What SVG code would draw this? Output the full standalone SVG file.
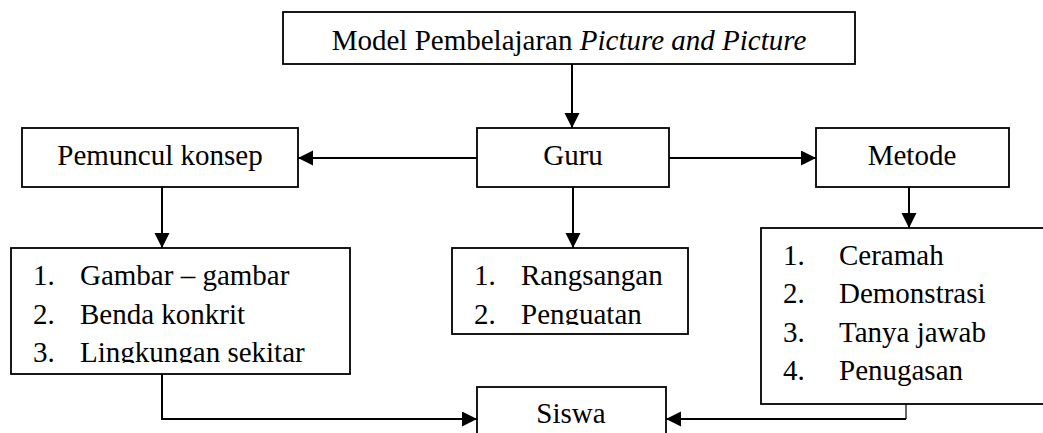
<svg xmlns="http://www.w3.org/2000/svg" width="1043" height="433" viewBox="0 0 1043 433">
  <style>
    .box { fill: #ffffff; stroke: #000000; stroke-width: 1.8; }
    .t { font-family: "Liberation Serif", "Times New Roman", serif; font-size: 29px; fill: #000000; }
    .c { text-anchor: middle; }
    .i { font-style: italic; }
    .conn { fill: none; stroke: #000000; stroke-width: 2; }
    .thin { fill: none; stroke: #000000; stroke-width: 1.2; }
  </style>
  <defs>
    <marker id="arrow" markerUnits="userSpaceOnUse" markerWidth="16" markerHeight="16" refX="15" refY="7.5" orient="auto">
      <path d="M0,0 L15,7.5 L0,15 z" fill="#000000"/>
    </marker>
    <clipPath id="clipGambar"><rect x="11" y="248" width="340" height="115"/></clipPath>
    <clipPath id="clipRang"><rect x="452" y="248" width="236" height="77"/></clipPath>
  </defs>
  <rect width="1043" height="433" fill="#ffffff"/>

  <g id="connectors">
    <line class="conn" x1="572" y1="64" x2="572" y2="128" marker-end="url(#arrow)"/>
    <line class="conn" x1="477" y1="158" x2="298" y2="158" marker-end="url(#arrow)"/>
    <line class="conn" x1="669" y1="158" x2="816" y2="158" marker-end="url(#arrow)"/>
    <line class="conn" x1="162" y1="187" x2="162" y2="248" marker-end="url(#arrow)"/>
    <line class="conn" x1="573" y1="187" x2="573" y2="248" marker-end="url(#arrow)"/>
    <line class="conn" x1="909" y1="187" x2="909" y2="228" marker-end="url(#arrow)"/>
    <polyline class="conn" points="162,374 162,419 477,419" marker-end="url(#arrow)"/>
    <line class="thin" x1="906" y1="404" x2="906" y2="419"/>
    <line class="conn" x1="906" y1="419" x2="666" y2="419" marker-end="url(#arrow)"/>
  </g>

  <g id="model">
    <rect class="box" x="283" y="12" width="572" height="52"/>
    <text class="t c" x="569" y="50">Model Pembelajaran <tspan class="i">Picture and Picture</tspan></text>
  </g>

  <g id="pemuncul">
    <rect class="box" x="22" y="128" width="276" height="59"/>
    <text class="t c" x="160" y="165">Pemuncul konsep</text>
  </g>

  <g id="guru">
    <rect class="box" x="477" y="128" width="192" height="59"/>
    <text class="t c" x="573" y="165">Guru</text>
  </g>

  <g id="metode">
    <rect class="box" x="816" y="128" width="193" height="59"/>
    <text class="t c" x="912" y="165">Metode</text>
  </g>

  <g id="media-list">
    <rect class="box" x="11" y="248" width="339" height="126"/>
    <g clip-path="url(#clipGambar)">
      <text class="t" x="33" y="285">1.</text><text class="t" x="80" y="285">Gambar – gambar</text>
      <text class="t" x="33" y="323.5">2.</text><text class="t" x="80" y="323.5">Benda konkrit</text>
      <text class="t" x="33" y="362">3.</text><text class="t" x="80" y="362">Lingkungan sekitar</text>
    </g>
  </g>

  <g id="guru-list">
    <rect class="box" x="452" y="248" width="236" height="86"/>
    <g clip-path="url(#clipRang)">
      <text class="t" x="474" y="285">1.</text><text class="t" x="521" y="285">Rangsangan</text>
      <text class="t" x="474" y="324">2.</text><text class="t" x="521" y="324">Penguatan</text>
    </g>
  </g>

  <g id="metode-list">
    <rect class="box" x="761" y="228" width="300" height="176"/>
    <text class="t" x="783" y="265">1.</text><text class="t" x="839" y="265">Ceramah</text>
    <text class="t" x="783" y="303">2.</text><text class="t" x="839" y="303">Demonstrasi</text>
    <text class="t" x="783" y="342">3.</text><text class="t" x="839" y="342">Tanya jawab</text>
    <text class="t" x="783" y="380">4.</text><text class="t" x="839" y="380">Penugasan</text>
  </g>

  <g id="siswa">
    <rect class="box" x="477" y="387" width="189" height="60"/>
    <text class="t c" x="571" y="423">Siswa</text>
  </g>
</svg>
